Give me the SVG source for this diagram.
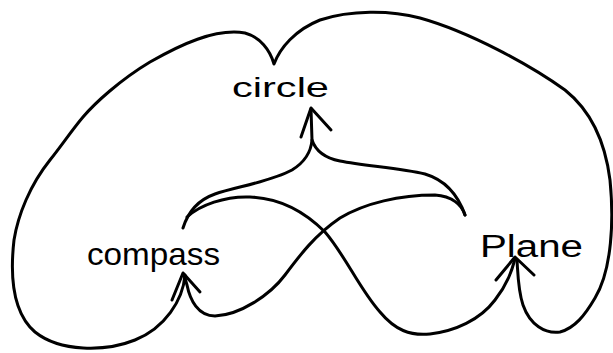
<svg xmlns="http://www.w3.org/2000/svg" width="613" height="353" viewBox="0 0 613 353">
<style>
.edge{fill:none;stroke:#000;stroke-width:3;stroke-linecap:round;stroke-linejoin:round}
.lbl{font-family:"Liberation Sans","DejaVu Sans",sans-serif;fill:#000}
</style>
<rect width="613" height="353" fill="#fff"/>
<g id="circle"><text class="lbl" x="232" y="97" font-size="28" textLength="97" lengthAdjust="spacingAndGlyphs">circle</text></g>
<g id="compass"><text class="lbl" x="87" y="265" font-size="32" textLength="133" lengthAdjust="spacingAndGlyphs">compass</text></g>
<g id="plane"><text class="lbl" x="480" y="257" font-size="31" textLength="103" lengthAdjust="spacingAndGlyphs">Plane</text></g>
<g id="connectors">
<path class="edge" d="M185,275 C183,300 165,328 135,340 C105,352 60,352 35,332 C12,312 10,275 14,240 C18,215 30,185 50,160 C62,145 72,130 83,117 C95,103 120,80 150,62 C180,45 215,28 245,33 C260,37 270,50 274,64 C280,48 295,30 320,20 C350,10 390,10 420,18 C470,32 530,65 565,90 C590,110 605,140 610,180 C614,220 612,270 595,298 C585,315 575,328 560,332 C545,334 530,325 523,305 C518,290 518,275 517,260"/>
<path class="edge" d="M187,217 C200,205 225,196 250,197 C280,198 305,212 325,232 C345,255 360,290 380,312 C395,330 410,336 430,334 C455,331 480,320 495,300 C508,283 512,270 515,259"/>
<path class="edge" d="M465,215 C462,205 452,196 435,195 C400,195 365,203 340,218 C315,235 300,255 285,275 C270,295 240,315 215,316 C198,316 190,300 187,285 L184,275"/>
<path class="edge" d="M183,228 C188,212 198,200 215,194 C235,187 270,182 292,170 C305,162 311,152 312,140 L311,109"/>
<path class="edge" d="M312,140 C316,152 325,158 340,161 C365,166 400,168 425,174 C445,180 458,195 465,215"/>
<path class="edge" d="M301,137 L311,108 L331,130"/>
<path class="edge" d="M172,300 L183,273 L200,292"/>
<path class="edge" d="M496,280 L515,257 L534,275"/>
</g>
</svg>
